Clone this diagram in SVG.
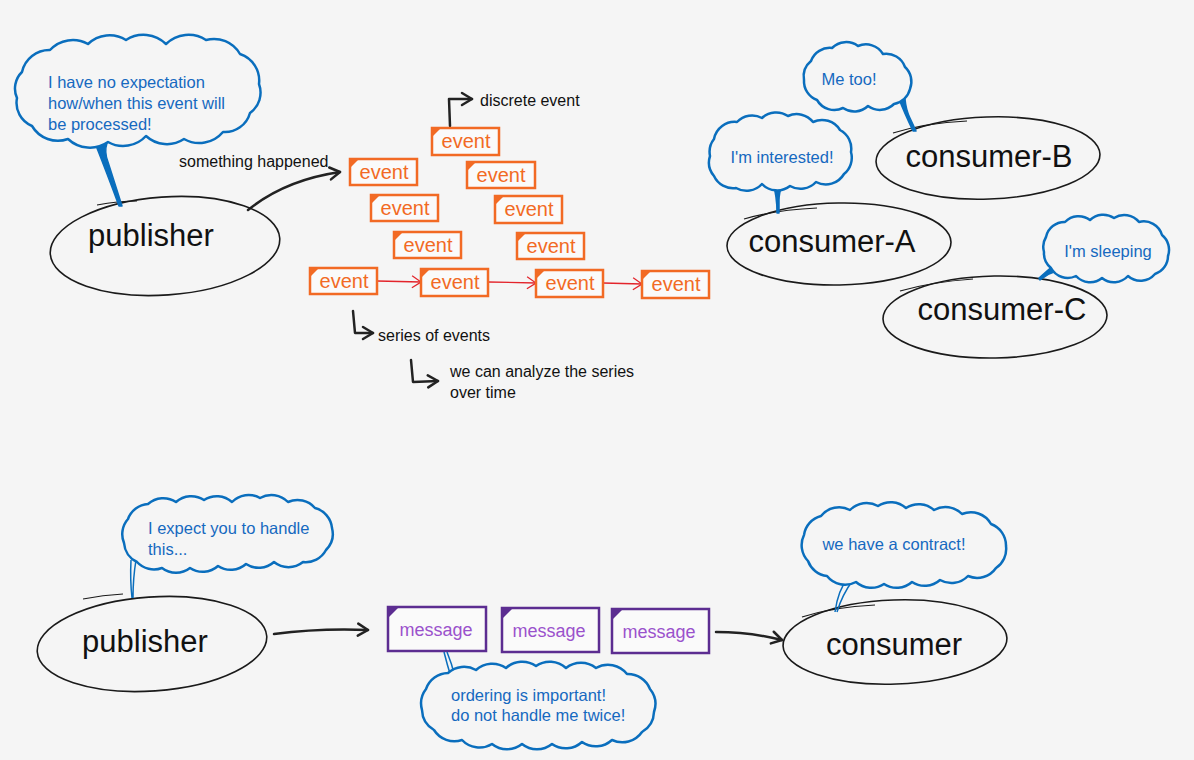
<svg xmlns="http://www.w3.org/2000/svg" width="1194" height="760" viewBox="0 0 1194 760">
<defs>
<style>
.bg{fill:#f5f5f5}
.cloud{fill:#f5f5f5;stroke:#0a6ebd;stroke-width:2.5;stroke-linejoin:round}
.tail{fill:#0a6ebd;stroke:#0a6ebd;stroke-width:1.5;stroke-linejoin:round}
.ct{font-family:"Liberation Sans",Arial,sans-serif;font-size:16.5px;fill:#1669c0}
.ell{fill:none;stroke:#1a1a1a;stroke-width:1.6}
.over{fill:none;stroke:#1a1a1a;stroke-width:1.2}
.et{font-family:"Liberation Sans",Arial,sans-serif;font-size:31px;fill:#111;text-anchor:middle}
.lbl{font-family:"Liberation Sans",Arial,sans-serif;font-size:16px;fill:#111}
.evb{fill:#fafafa;stroke:#f26a24;stroke-width:2.5}
.evc{fill:#f26a24}
.evt{font-family:"Liberation Sans",Arial,sans-serif;font-size:20px;fill:#f26a24;text-anchor:middle}
.msb{fill:#fafafa;stroke:#5c2d91;stroke-width:2.5}
.msc{fill:#5c2d91}
.mst{font-family:"Liberation Sans",Arial,sans-serif;font-size:18px;fill:#9a52cc;text-anchor:middle}
.blk{fill:none;stroke:#222;stroke-width:2.5;stroke-linecap:round;stroke-linejoin:round}
.red{fill:none;stroke:#e3242b;stroke-width:1.3}
</style>
<marker id="ah" markerUnits="userSpaceOnUse" markerWidth="16" markerHeight="16" viewBox="0 0 16 16" refX="13" refY="8" orient="auto">
<path d="M3,2 L13,8 L3,14" fill="none" stroke="#222" stroke-width="2.5" stroke-linecap="round" stroke-linejoin="round"/>
</marker>
<marker id="rh" markerUnits="userSpaceOnUse" markerWidth="12" markerHeight="14" viewBox="0 0 12 14" refX="11" refY="7" orient="auto">
<path d="M2,1 L11,7 L2,13" fill="none" stroke="#e3242b" stroke-width="1.3"/>
</marker>
</defs>
<rect class="bg" x="0" y="0" width="1194" height="760"/>

<g id="connectors">
<path class="blk" d="M248,210 Q285,180 340,172" marker-end="url(#ah)"/>
<path class="blk" d="M450,126 L449,99 L472,99" marker-end="url(#ah)"/>
<path class="blk" d="M353,311 L355,333 L373,333" marker-end="url(#ah)"/>
<path class="blk" d="M411,360 L413,382 L438,381" marker-end="url(#ah)"/>
<path class="red" d="M377,281 L421,282" marker-end="url(#rh)"/>
<path class="red" d="M488,282 L536,283" marker-end="url(#rh)"/>
<path class="red" d="M603,283 L642,284" marker-end="url(#rh)"/>
<path class="blk" d="M274,634 Q320,628 368,630" marker-end="url(#ah)"/>
<path class="blk" d="M716,632 Q750,632 782,640" marker-end="url(#ah)"/>
</g>

<g id="publisher-top">
<ellipse class="ell" cx="165" cy="246" rx="115" ry="49" transform="rotate(-4 165 246)"/>
<path class="over" d="M97,205 Q118,201 137,201"/>
<text class="et" x="151" y="246">publisher</text>
</g>
<g id="cloud-publisher-top">
<path class="tail" d="M95,143 L107,143 Q104,152 108,162 L122,206 L119,206 Q108,176 95,143 Z"/>
<path class="cloud" d="M22,72 A28,28 0 0 1 50,50 A31,31 0 0 1 88,44 A31,31 0 0 1 126,40 A32,32 0 0 1 166,44 A32,32 0 0 1 206,40 A30,30 0 0 1 240,54 A28,28 0 0 1 259,84 A25,25 0 0 1 250,113 A26,26 0 0 1 223,132 A31,31 0 0 1 184,139 A31,31 0 0 1 146,136 A31,31 0 0 1 108,142 A32,32 0 0 1 68,139 A30,30 0 0 1 32,126 A25,25 0 0 1 17,98 A23,23 0 0 1 22,72 Z"/>
<text class="ct" x="48" y="88">I have no expectation</text>
<text class="ct" x="48" y="109">how/when this event will</text>
<text class="ct" x="48" y="130">be processed!</text>
</g>
<text class="lbl" x="179" y="167" font-size="15.2">something happened</text>

<g id="events">
<g id="ev1"><rect class="evb" x="432" y="128" width="67" height="27"/><path class="evc" d="M432,128 h9 l-9,9 z"/><text class="evt" x="466" y="148">event</text></g>
<g id="ev2"><rect class="evb" x="350" y="159" width="67" height="26"/><path class="evc" d="M350,159 h9 l-9,9 z"/><text class="evt" x="384" y="179">event</text></g>
<g id="ev3"><rect class="evb" x="467" y="162" width="68" height="26"/><path class="evc" d="M467,162 h9 l-9,9 z"/><text class="evt" x="501" y="182">event</text></g>
<g id="ev4"><rect class="evb" x="371" y="195" width="67" height="26"/><path class="evc" d="M371,195 h9 l-9,9 z"/><text class="evt" x="405" y="215">event</text></g>
<g id="ev5"><rect class="evb" x="495" y="196" width="67" height="27"/><path class="evc" d="M495,196 h9 l-9,9 z"/><text class="evt" x="529" y="216">event</text></g>
<g id="ev6"><rect class="evb" x="394" y="232" width="67" height="26"/><path class="evc" d="M394,232 h9 l-9,9 z"/><text class="evt" x="428" y="252">event</text></g>
<g id="ev7"><rect class="evb" x="517" y="233" width="67" height="26"/><path class="evc" d="M517,233 h9 l-9,9 z"/><text class="evt" x="551" y="253">event</text></g>
<g id="ev8"><rect class="evb" x="310" y="268" width="67" height="26"/><path class="evc" d="M310,268 h9 l-9,9 z"/><text class="evt" x="344" y="288">event</text></g>
<g id="ev9"><rect class="evb" x="421" y="269" width="67" height="27"/><path class="evc" d="M421,269 h9 l-9,9 z"/><text class="evt" x="455" y="289">event</text></g>
<g id="ev10"><rect class="evb" x="536" y="270" width="67" height="27"/><path class="evc" d="M536,270 h9 l-9,9 z"/><text class="evt" x="570" y="290">event</text></g>
<g id="ev11"><rect class="evb" x="642" y="271" width="67" height="27"/><path class="evc" d="M642,271 h9 l-9,9 z"/><text class="evt" x="676" y="291">event</text></g>
</g>
<text class="lbl" x="480" y="106">discrete event</text>
<text class="lbl" x="378" y="341">series of events</text>
<text class="lbl" x="450" y="377">we can analyze the series</text>
<text class="lbl" x="450" y="398">over time</text>

<g id="consumer-B">
<ellipse class="ell" cx="988" cy="158" rx="112" ry="41" transform="rotate(-2 988 158)"/>
<path class="over" d="M893,133 Q925,123 967,121"/>
<text class="et" x="989" y="167">consumer-B</text>
</g>
<g id="cloud-B">
<path class="tail" d="M899,99 L905,99 Q906,110 910,118 L916,131 L913,131 Q904,112 899,99 Z"/>
<path class="cloud" d="M811,61 A20,20 0 0 1 832,48 A20,20 0 0 1 858,46 A20,20 0 0 1 883,54 A20,20 0 0 1 905,67 A20,20 0 0 1 910,89 A20,20 0 0 1 894,104 A20,20 0 0 1 868,106 A20,20 0 0 1 843,108 A20,20 0 0 1 817,100 A20,20 0 0 1 804,80 A20,20 0 0 1 811,61 Z"/>
<text class="ct" x="849" y="85" text-anchor="middle">Me too!</text>
</g>

<g id="consumer-A">
<ellipse class="ell" cx="839" cy="244" rx="112" ry="41" transform="rotate(-1 839 244)"/>
<path class="over" d="M744,219 Q775,210 817,208"/>
<text class="et" x="832" y="252">consumer-A</text>
</g>
<g id="cloud-A">
<path class="tail" d="M773,184 L782,184 Q779,194 779,200 L779,213 L777,213 Q777,196 773,184 Z"/>
<path class="cloud" d="M714,139 A21,21 0 0 1 737,122 A21,21 0 0 1 762,118 A21,21 0 0 1 788,116 A21,21 0 0 1 813,122 A21,21 0 0 1 840,130 A21,21 0 0 1 851,152 A21,21 0 0 1 844,174 A21,21 0 0 1 816,182 A21,21 0 0 1 790,186 A21,21 0 0 1 762,184 A21,21 0 0 1 736,188 A21,21 0 0 1 714,176 A21,21 0 0 1 710,156 A21,21 0 0 1 714,139 Z"/>
<text class="ct" x="782" y="163" text-anchor="middle">I'm interested!</text>
</g>

<g id="consumer-C">
<ellipse class="ell" cx="995" cy="317" rx="112" ry="41" transform="rotate(-1 995 317)"/>
<path class="over" d="M900,291 Q931,282 973,279"/>
<text class="et" x="1002" y="320">consumer-C</text>
</g>
<g id="cloud-C">
<path class="tail" d="M1055,264 L1064,268 Q1054,272 1049,274 L1040,280 L1039,278 Q1048,270 1055,264 Z"/>
<path class="cloud" d="M1046,237 A19,19 0 0 1 1065,222 A19,19 0 0 1 1090,220 A19,19 0 0 1 1114,218 A19,19 0 0 1 1139,222 A19,19 0 0 1 1162,235 A19,19 0 0 1 1168,256 A19,19 0 0 1 1155,274 A19,19 0 0 1 1128,276 A19,19 0 0 1 1102,278 A19,19 0 0 1 1076,276 A19,19 0 0 1 1051,268 A19,19 0 0 1 1044,252 A19,19 0 0 1 1046,237 Z"/>
<text class="ct" x="1108" y="257" text-anchor="middle">I'm sleeping</text>
</g>

<g id="publisher-bottom">
<ellipse class="ell" cx="152" cy="644" rx="115" ry="47" transform="rotate(-4 152 644)"/>
<path class="over" d="M83,599 Q103,595 123,594"/>
<text class="et" x="145" y="652">publisher</text>
</g>
<g id="cloud-publisher-bottom">
<path d="M131,560 Q130,580 132,598 M136,560 Q133,578 133,598" fill="none" stroke="#0a6ebd" stroke-width="1.5"/>
<path class="cloud" d="M128,519 A23,23 0 0 1 148,504 A23,23 0 0 1 176,502 A23,23 0 0 1 204,500 A23,23 0 0 1 232,502 A23,23 0 0 1 260,498 A23,23 0 0 1 288,502 A23,23 0 0 1 315,508 A23,23 0 0 1 332,528 A23,23 0 0 1 326,550 A23,23 0 0 1 303,562 A23,23 0 0 1 274,562 A23,23 0 0 1 246,564 A23,23 0 0 1 218,566 A23,23 0 0 1 190,568 A23,23 0 0 1 162,568 A23,23 0 0 1 137,562 A23,23 0 0 1 124,543 A23,23 0 0 1 128,519 Z"/>
<text class="ct" x="148" y="534">I expect you to handle</text>
<text class="ct" x="148" y="555">this...</text>
</g>

<g id="messages">
<g id="msg1"><rect class="msb" x="388" y="607" width="98" height="44"/><path class="msc" d="M388,607 h11 l-11,11 z"/><text class="mst" x="436" y="636">message</text></g>
<g id="msg2"><rect class="msb" x="502" y="608" width="97" height="44"/><path class="msc" d="M502,608 h11 l-11,11 z"/><text class="mst" x="549" y="637">message</text></g>
<g id="msg3"><rect class="msb" x="612" y="609" width="97" height="44"/><path class="msc" d="M612,609 h11 l-11,11 z"/><text class="mst" x="659" y="638">message</text></g>
</g>
<g id="cloud-messages">
<path d="M444,652 Q447,664 451,677 M447,652 Q452,664 455,677" fill="none" stroke="#0a6ebd" stroke-width="1.5"/>
<path class="cloud" d="M426,689 A24,24 0 0 1 448,673 A24,24 0 0 1 476,670 A24,24 0 0 1 506,668 A24,24 0 0 1 536,666 A24,24 0 0 1 566,668 A24,24 0 0 1 596,668 A24,24 0 0 1 627,674 A24,24 0 0 1 650,689 A24,24 0 0 1 654,712 A24,24 0 0 1 642,732 A24,24 0 0 1 612,740 A24,24 0 0 1 582,742 A24,24 0 0 1 552,744 A24,24 0 0 1 522,744 A24,24 0 0 1 492,744 A24,24 0 0 1 462,740 A24,24 0 0 1 434,730 A24,24 0 0 1 422,710 A24,24 0 0 1 426,689 Z"/>
<text class="ct" x="451" y="701">ordering is important!</text>
<text class="ct" x="451" y="721">do not handle me twice!</text>
</g>

<g id="consumer">
<ellipse class="ell" cx="895" cy="642" rx="112" ry="42" transform="rotate(-2 895 642)"/>
<path class="over" d="M802,617 Q833,607 875,605"/>
<text class="et" x="894" y="655">consumer</text>
</g>
<g id="cloud-consumer">
<path d="M848,578 Q838,590 835,612 M853,580 Q842,595 837,612" fill="none" stroke="#0a6ebd" stroke-width="1.5"/>
<path class="cloud" d="M804,535 A23,23 0 0 1 821,516 A23,23 0 0 1 850,510 A23,23 0 0 1 878,506 A23,23 0 0 1 906,508 A23,23 0 0 1 934,510 A23,23 0 0 1 962,514 A23,23 0 0 1 991,524 A23,23 0 0 1 1006,546 A23,23 0 0 1 996,568 A23,23 0 0 1 968,576 A23,23 0 0 1 940,580 A23,23 0 0 1 912,582 A23,23 0 0 1 884,584 A23,23 0 0 1 856,582 A23,23 0 0 1 827,576 A23,23 0 0 1 808,561 A23,23 0 0 1 804,535 Z"/>
<text class="ct" x="894" y="550" text-anchor="middle">we have a contract!</text>
</g>
</svg>
